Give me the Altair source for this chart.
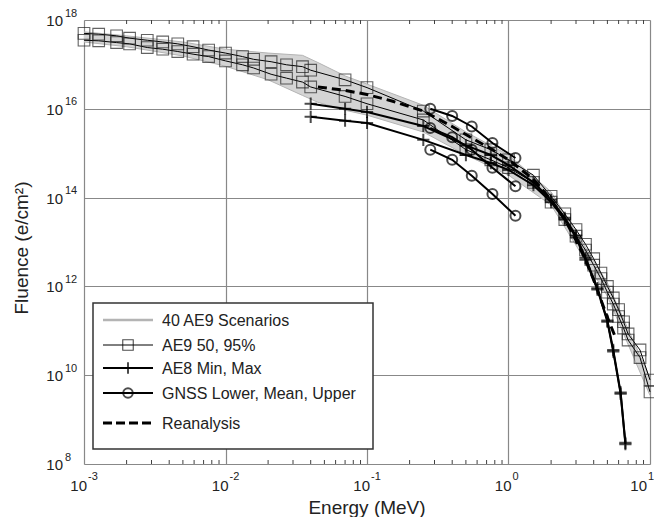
import altair as alt
import pandas as pd

# ---------------- data ----------------
ae9_E = [0.001, 0.00127, 0.0017, 0.0021, 0.0028, 0.0036, 0.0046, 0.0059, 0.0076,
         0.01, 0.0132, 0.0158, 0.021, 0.027, 0.035, 0.04, 0.07, 0.1, 0.25, 0.5,
         0.75, 1.0, 1.5, 2.0, 2.5, 3.0, 3.5, 4.0, 4.5, 5.0, 5.5, 6.0, 6.5, 7.0, 8.5, 10.0]
ae9_95 = [5.0e17, 4.8e17, 4.4e17, 3.9e17, 3.5e17, 3.2e17, 2.9e17, 2.5e17, 2.1e17,
          1.8e17, 1.5e17, 1.3e17, 1.15e17, 9.8e16, 8.9e16, 7.4e16, 4.5e16, 3.0e16, 8.9e15, 2.0e15,
          1.2e15, 7.1e14, 3.2e14, 1.07e14, 4.3e13, 1.9e13, 8.9e12, 4.2e12, 2.0e12, 1.0e12,
          5.5e11, 3.0e11, 1.6e11, 8.5e10, 3.7e10, 7.8e9]
ae9_50 = [3.5e17, 3.4e17, 3.1e17, 2.9e17, 2.4e17, 2.2e17, 1.95e17, 1.7e17, 1.5e17,
          1.2e17, 9.8e16, 8.3e16, 6.0e16, 4.9e16, 4.0e16, 3.1e16, 1.9e16, 1.3e16, 5.6e15, 1.2e15,
          7.1e14, 4.7e14, 2.2e14, 7.9e13, 3.2e13, 1.35e13, 6.6e12, 3.0e12, 1.5e12, 7.4e11,
          4.0e11, 2.1e11, 1.15e11, 6.2e10, 2.5e10, 4.2e9]

ae8_E = [0.04, 0.07, 0.1, 0.25, 0.5, 0.75, 1.0, 1.5, 2.0, 2.5, 3.0, 3.5, 4.25, 5.0, 5.5, 6.2, 6.7]
ae8_max = [1.3e16, 1.0e16, 8.5e15, 4.1e15, 1.5e15, 9.1e14, 5.4e14, 2.2e14, 8.9e13, 3.5e13,
           1.4e13, 4.4e12, 9.1e11, 1.7e11, 3.7e10, 4.1e9, 3.0e8]
ae8_min = [6.6e15, 5.4e15, 4.8e15, 2.0e15, 9.1e14, 6.0e14, 4.2e14, 1.9e14, 7.9e13, 3.2e13,
           1.26e13, 4.0e12, 8.5e11, 1.6e11, 3.4e10, 3.8e9, 2.8e8]

gnss_E = [0.28, 0.40, 0.55, 0.77, 1.12]
gnss_upper = [1.0e16, 6.9e15, 4.0e15, 1.7e15, 7.8e14]
gnss_mean = [3.7e15, 2.3e15, 1.2e15, 4.7e14, 1.8e14]
gnss_lower = [1.2e15, 7.1e14, 3.1e14, 1.2e14, 3.9e13]

rean_E = [0.045, 0.07, 0.1, 0.15, 0.25, 0.4, 0.55, 0.75, 1.0, 1.5, 2.0, 2.5, 3.0,
          3.5, 4.0, 4.5, 5.0, 5.67]
rean_F = [3.1e16, 2.6e16, 2.1e16, 1.5e16, 8.9e15, 4.0e15, 2.2e15, 1.26e15, 7.1e14,
          2.6e14, 8.9e13, 3.2e13, 1.1e13, 4.0e12, 1.4e12, 5.0e11, 2.0e11, 7.4e10]

scen_E = [0.001, 0.002, 0.005, 0.01, 0.02, 0.035, 0.045, 0.07, 0.1, 0.25, 0.5, 1.0, 2.0, 5.0, 10.0]
scen_hi = [5.4e17, 4.4e17, 3.2e17, 2.2e17, 1.8e17, 1.6e17, 1.1e17, 5.5e16, 3.6e16, 1.2e16,
           3.0e15, 9.1e14, 1.35e14, 1.2e12, 8.7e9]
scen_lo = [3.2e17, 2.5e17, 1.55e17, 9.1e16, 4.5e16, 2.0e16, 1.4e16, 9.3e15, 7.2e15, 3.0e15,
           9.1e14, 3.2e14, 6.8e13, 6.0e11, 3.5e9]

x_ticks = [0.001, 0.01, 0.1, 1.0, 10.0]
x_exps = ["-3", "-2", "-1", "0", "1"]
x_minor = [m * d for d in [0.001, 0.01, 0.1, 1.0] for m in range(2, 10)]
y_ticks = [1e8, 1e10, 1e12, 1e14, 1e16, 1e18]
y_exps = ["8", "10", "12", "14", "16", "18"]

legend_labels = ["40 AE9 Scenarios", "AE9 50, 95%", "AE8 Min, Max",
                 "GNSS Lower, Mean, Upper", "Reanalysis"]

# ---------------- tables ----------------
def long(E, curves):
    rows = []
    for name, vals in curves.items():
        for e, f in zip(E, vals):
            rows.append({"E": e, "F": f, "curve": name})
    return pd.DataFrame(rows)

ae9 = long(ae9_E, {"95%": ae9_95, "50%": ae9_50})
ae8 = long(ae8_E, {"max": ae8_max, "min": ae8_min})
gnss = long(gnss_E, {"upper": gnss_upper, "mean": gnss_mean, "lower": gnss_lower})
rean = pd.DataFrame({"E": rean_E, "F": rean_F})
scen = pd.DataFrame({"E": scen_E, "hi": scen_hi, "lo": scen_lo})
xt = pd.DataFrame({"E": x_ticks, "base": ["10"] * 5, "exp": x_exps})
yt = pd.DataFrame({"F": y_ticks, "base": ["10"] * 6, "exp": y_exps})
xm = pd.DataFrame({"E": x_minor})
one = pd.DataFrame({"a": [0]})

W, H = 566, 444
FONT = "Liberation Sans"
xs = alt.Scale(type="log", domain=[1e-3, 10], nice=False)
ys = alt.Scale(type="log", domain=[1e8, 1e18], nice=False)
AX = alt.Axis(values=x_ticks, grid=True, labels=False, ticks=False, domain=False,
              title=None, gridColor="#888888", gridWidth=1.2)
AY = alt.Axis(values=y_ticks, grid=True, labels=False, ticks=False, domain=False,
              title=None, gridColor="#888888", gridWidth=1.2)


def X(field="E"):
    return alt.X(f"{field}:Q", scale=xs, axis=AX)


def Y(field="F"):
    return alt.Y(f"{field}:Q", scale=ys, axis=AY)


layers = []
# scenario band
layers.append(alt.Chart(scen).mark_area(color="#d4d4d4").encode(
    x=X(), y=Y("hi"), y2="lo:Q"))
for col in ["hi", "lo"]:
    layers.append(alt.Chart(scen).mark_line(color="#b4b4b4", strokeWidth=1).encode(
        x=X(), y=Y(col)))

# AE9
layers.append(alt.Chart(ae9).mark_line(color="black", strokeWidth=1).encode(
    x=X(), y=Y(), detail="curve:N"))
layers.append(alt.Chart(ae9).mark_point(shape="square", filled=False, size=135,
                                        color="#222222", strokeWidth=1.1).encode(x=X(), y=Y()))
# AE8
PLUS = "M-1,0H1M0,-1V1"
layers.append(alt.Chart(ae8).mark_line(color="black", strokeWidth=2).encode(
    x=X(), y=Y(), detail="curve:N"))
layers.append(alt.Chart(ae8).mark_point(shape=PLUS, filled=False, size=150,
                                        color="black", strokeWidth=2).encode(x=X(), y=Y()))
# GNSS
layers.append(alt.Chart(gnss).mark_line(color="black", strokeWidth=2).encode(
    x=X(), y=Y(), detail="curve:N"))
layers.append(alt.Chart(gnss).mark_point(shape="circle", filled=False, size=100,
                                         color="black", strokeWidth=2).encode(x=X(), y=Y()))
# Reanalysis
layers.append(alt.Chart(rean).mark_line(color="black", strokeWidth=3, strokeDash=[9, 5]).encode(
    x=X(), y=Y()))

# inward minor ticks (bottom and top)
layers.append(alt.Chart(xm).mark_rule(color="#404040", strokeWidth=1).encode(
    x=X(), y=alt.value(H), y2=alt.value(H - 4)))
layers.append(alt.Chart(xm).mark_rule(color="#404040", strokeWidth=1).encode(
    x=X(), y=alt.value(0), y2=alt.value(4)))

# tick labels (the last one is pulled in so it stays inside the page)
for flt, shift in [("datum.E < 5", 0), ("datum.E > 5", -6)]:
    layers.append(alt.Chart(xt).transform_filter(flt).mark_text(
        align="right", baseline="middle", fontSize=15, font=FONT, dx=3 + shift,
        color="#222").encode(x=X(), y=alt.value(H + 22), text="base:N"))
    layers.append(alt.Chart(xt).transform_filter(flt).mark_text(
        align="left", baseline="middle", fontSize=11, font=FONT, dx=4 + shift,
        color="#222").encode(x=X(), y=alt.value(H + 13), text="exp:N"))
layers.append(alt.Chart(yt).mark_text(align="right", baseline="middle", fontSize=15,
                                      font=FONT, dy=1, color="#222").encode(
    x=alt.value(-21), y=Y(), text="base:N"))
layers.append(alt.Chart(yt).mark_text(align="left", baseline="middle", fontSize=11,
                                      font=FONT, dy=-6.5, color="#222").encode(
    x=alt.value(-19), y=Y(), text="exp:N"))

# axis titles
layers.append(alt.Chart(one).mark_text(fontSize=19, font=FONT, color="#222",
                                       baseline="middle").encode(
    x=alt.value(W / 2), y=alt.value(H + 44), text=alt.value("Energy (MeV)")))
layers.append(alt.Chart(one).mark_text(fontSize=19, font=FONT, color="#222", angle=270,
                                       baseline="middle").encode(
    x=alt.value(-62), y=alt.value(H / 2 + 6), text=alt.value("Fluence (e/cm²)")))

# legend
LX0, LX1, LY0, LY1 = 9, 289, 283, 429
layers.append(alt.Chart(one).mark_rect(fill="white", stroke="#333333", strokeWidth=1.5).encode(
    x=alt.value(LX0), x2=alt.value(LX1), y=alt.value(LY0), y2=alt.value(LY1)))
rows_y = [300, 325, 348, 373, 403]
styles = [
    dict(color="#b4b4b4", strokeWidth=2.5),
    dict(color="black", strokeWidth=1),
    dict(color="black", strokeWidth=2),
    dict(color="black", strokeWidth=2),
    dict(color="black", strokeWidth=3, strokeDash=[9, 4]),
]
markers = [None,
           dict(shape="square", size=110, strokeWidth=1.1),
           dict(shape=PLUS, size=130, strokeWidth=2),
           dict(shape="circle", size=90, strokeWidth=2),
           None]
for lab, ry, st, mk in zip(legend_labels, rows_y, styles, markers):
    layers.append(alt.Chart(one).mark_rule(**st).encode(
        x=alt.value(19), x2=alt.value(69), y=alt.value(ry)))
    if mk:
        layers.append(alt.Chart(one).mark_point(filled=False, color="black", **mk).encode(
            x=alt.value(44), y=alt.value(ry)))
    layers.append(alt.Chart(one).mark_text(align="left", baseline="middle", fontSize=16,
                                           font=FONT, color="#222").encode(
        x=alt.value(78), y=alt.value(ry + 1), text=alt.value(lab)))

chart = alt.layer(*layers).properties(
    width=W, height=H, autosize="none",
    padding={"left": 76, "top": 12, "right": 4, "bottom": 53},
).configure_view(stroke="#404040", strokeWidth=1.5).configure(background="white")

chart.save("out.html", embed_options={"renderer": "svg", "actions": False})
